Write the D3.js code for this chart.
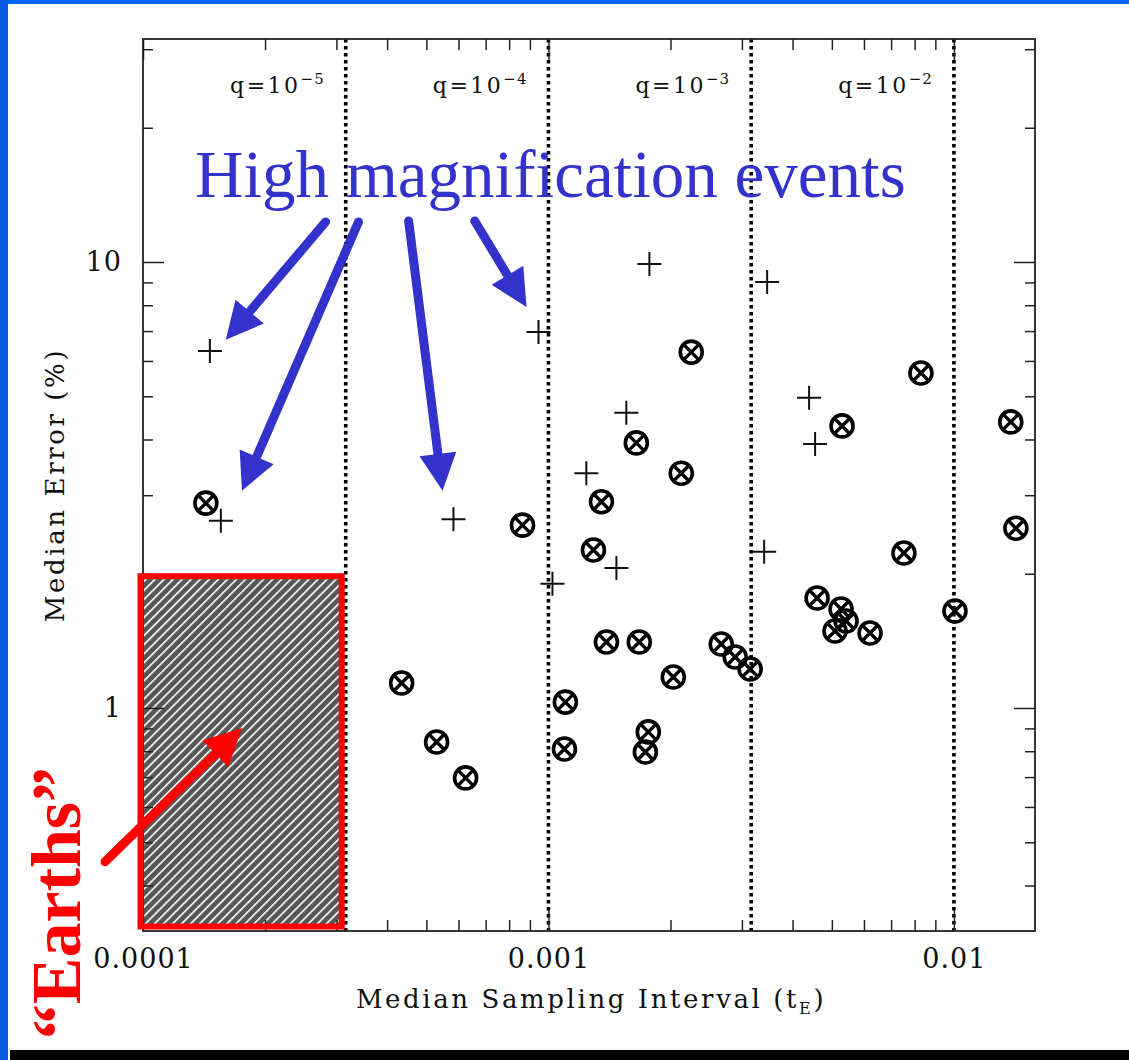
<!DOCTYPE html>
<meta charset="utf-8">
<style>
body { margin: 0; background: #fff; }
svg { display: block; }
</style>
<body>
<script src="https://cdn.jsdelivr.net/npm/d3@7"></script>
<script>
// events: median sampling interval (t_E) vs median error (%)
// "+" events
var plusX = [1.462e-4, 1.556e-4, 5.83e-4, 9.45e-4, 1.023e-3, 1.774e-3, 1.240e-3,
             1.556e-3, 1.471e-3, 3.462e-3, 4.394e-3, 4.546e-3, 3.404e-3];
var plusY = [6.32, 2.63, 2.65, 6.97, 1.90, 9.90, 3.36, 4.59, 2.06, 9.02, 4.96, 3.91, 2.24];

// circled-cross events
var circX = [1.429e-4, 4.344e-4, 5.298e-4, 6.246e-4, 8.630e-4, 1.101e-3, 1.095e-3,
             1.291e-3, 1.351e-3, 1.390e-3, 1.675e-3, 1.647e-3, 1.763e-3, 1.734e-3,
             2.032e-3, 2.126e-3, 2.250e-3, 2.668e-3, 2.888e-3, 3.144e-3, 4.598e-3,
             5.268e-3, 5.420e-3, 5.091e-3, 6.211e-3, 5.298e-3, 7.528e-3, 8.292e-3,
             1.006e-2, 1.381e-2, 1.422e-2];
var circY = [2.88, 1.138, 0.839, 0.697, 2.57, 1.031, 0.809, 2.26, 2.90, 1.406, 1.406,
             3.93, 0.884, 0.797, 1.174, 3.36, 6.28, 1.392, 1.301, 1.223, 1.765, 1.667,
             1.567, 1.488, 1.473, 4.29, 2.226, 5.64, 1.650, 4.38, 2.53];

// mass ratio boundaries and labels
var qBounds = [Math.pow(10, -3.5), 1e-3, Math.pow(10, -2.5), 1e-2];
var qExps = ["\u22125", "\u22124", "\u22123", "\u22122"];

var xTicks = [1e-4, 1e-3, 1e-2];
var xTickLabels = ["0.0001", "0.001", "0.01"];
var yTicks = [1, 10];
var yTickLabels = ["1", "10"];

// "Earths" region
var earthX = [1e-4, Math.pow(10, -3.5)];
var earthY = [Math.pow(10, -0.5), 2];

var W = 1129, H = 1060;
var pL = 143, pR = 1035, pT = 39, pB = 931;

var x = d3.scaleLog().domain([1e-4, Math.pow(10, -1.8)]).range([pL, pR]);
var y = d3.scaleLog().domain([Math.pow(10, -0.5), Math.pow(10, 1.5)]).range([pB, pT]);

var svg = d3.select("body").append("svg").attr("width", W).attr("height", H);

// slide frame
svg.append("rect").attr("width", W).attr("height", H).attr("fill", "#fff");
svg.append("rect").attr("x", 0).attr("y", 0).attr("width", W).attr("height", 4).attr("fill", "#0066ff");
svg.append("rect").attr("x", 0).attr("y", 0).attr("width", 8).attr("height", H).attr("fill", "#0a5ae0");
svg.append("rect").attr("x", 10).attr("y", 1050).attr("width", W - 10).attr("height", 10).attr("fill", "#000");

// hatch pattern
var defs = svg.append("defs");
var pat = defs.append("pattern").attr("id", "hatch")
    .attr("patternUnits", "userSpaceOnUse").attr("width", 6.4).attr("height", 6.4)
    .attr("patternTransform", "rotate(45)");
pat.append("rect").attr("width", 6.4).attr("height", 6.4).attr("fill", "#575757");
pat.append("rect").attr("width", 1.6).attr("height", 6.4).attr("fill", "#fff");

var bx0 = x(earthX[0]), bx1 = x(earthX[1]), by0 = y(earthY[1]), by1 = y(earthY[0]);
svg.append("rect").attr("x", bx0).attr("y", by0 + 2)
    .attr("width", bx1 - bx0 - 6).attr("height", by1 - by0 - 8)
    .attr("fill", "url(#hatch)");

// q boundaries
svg.selectAll(".qline").data(qBounds).enter().append("line")
    .attr("x1", d => x(d)).attr("x2", d => x(d))
    .attr("y1", pT).attr("y2", pB)
    .attr("stroke", "#000").attr("stroke-width", 3.6).attr("stroke-dasharray", "3.6,3.4");

var serif = "'DejaVu Serif', serif";

var qt = svg.selectAll(".qlab").data(qBounds).enter().append("text")
    .attr("x", d => x(d) - 21).attr("y", 93)
    .attr("text-anchor", "end")
    .attr("font-family", serif).attr("font-size", 22).attr("letter-spacing", 2.5)
    .attr("fill", "#111");
qt.append("tspan").text("q=10");
qt.append("tspan").attr("dy", -9).attr("font-size", 15).attr("letter-spacing", 1)
    .text((d, i) => qExps[i]);

// axes
var xMinor = x.ticks().filter(d => xTicks.indexOf(d) < 0);
var yMinor = y.ticks().filter(d => yTicks.indexOf(d) < 0);

function style(g) {
  g.attr("font-family", serif).attr("font-size", 27);
  g.select(".domain").remove();
  g.selectAll("line").attr("stroke", "#222").attr("stroke-width", 1.5);
  g.selectAll("text").attr("fill", "#111").attr("letter-spacing", 1);
}

svg.append("g").attr("transform", "translate(0," + pB + ")")
    .call(d3.axisBottom(x).tickValues(xTicks).tickSize(-21).tickPadding(18)
      .tickFormat((d, i) => xTickLabels[i])).call(style);
svg.append("g").attr("transform", "translate(0," + pB + ")")
    .call(d3.axisBottom(x).tickValues(xMinor).tickSize(-11).tickFormat("")).call(style);
svg.append("g").attr("transform", "translate(0," + pT + ")")
    .call(d3.axisTop(x).tickValues(xTicks).tickSize(-21).tickFormat("")).call(style);
svg.append("g").attr("transform", "translate(0," + pT + ")")
    .call(d3.axisTop(x).tickValues(xMinor).tickSize(-11).tickFormat("")).call(style);

svg.append("g").attr("transform", "translate(" + pL + ",0)")
    .call(d3.axisLeft(y).tickValues(yTicks).tickSize(-21).tickPadding(21)
      .tickFormat((d, i) => yTickLabels[i])).call(style);
svg.append("g").attr("transform", "translate(" + pL + ",0)")
    .call(d3.axisLeft(y).tickValues(yMinor).tickSize(-10).tickFormat("")).call(style);
svg.append("g").attr("transform", "translate(" + pR + ",0)")
    .call(d3.axisRight(y).tickValues(yTicks).tickSize(-21).tickFormat("")).call(style);
svg.append("g").attr("transform", "translate(" + pR + ",0)")
    .call(d3.axisRight(y).tickValues(yMinor).tickSize(-10).tickFormat("")).call(style);

svg.append("rect").attr("x", pL).attr("y", pT)
    .attr("width", pR - pL).attr("height", pB - pT)
    .attr("fill", "none").attr("stroke", "#222").attr("stroke-width", 1.8);

// axis titles
var xt = svg.append("text").attr("x", 591).attr("y", 1008).attr("text-anchor", "middle")
    .attr("font-family", serif).attr("font-size", 26).attr("letter-spacing", 2.6).attr("fill", "#111");
xt.append("tspan").text("Median Sampling Interval (t");
xt.append("tspan").attr("dy", 6).attr("font-size", 16).text("E");
xt.append("tspan").attr("dy", -6).text(")");

svg.append("text").attr("transform", "translate(64,485) rotate(-90)")
    .attr("text-anchor", "middle")
    .attr("font-family", serif).attr("font-size", 26).attr("letter-spacing", 2.6).attr("fill", "#111")
    .text("Median Error (%)");

// points
svg.append("g").selectAll("path").data(plusX).enter().append("path")
    .attr("d", (d, i) => {
      var cx = x(d), cy = y(plusY[i]);
      return "M" + (cx - 12) + "," + cy + "H" + (cx + 12) + "M" + cx + "," + (cy - 12) + "V" + (cy + 12);
    })
    .attr("stroke", "#111").attr("stroke-width", 2).attr("fill", "none");

var cg = svg.append("g").selectAll("g").data(circX).enter().append("g")
    .attr("transform", (d, i) => "translate(" + x(d) + "," + y(circY[i]) + ")");
cg.append("circle").attr("r", 11).attr("fill", "none").attr("stroke", "#000").attr("stroke-width", 3.6);
cg.append("path").attr("d", "M-7.5,-7.5L7.5,7.5M-7.5,7.5L7.5,-7.5")
    .attr("stroke", "#000").attr("stroke-width", 3.4);

// red box
svg.append("rect").attr("x", bx0 - 2.5).attr("y", by0 + 2.5)
    .attr("width", bx1 - bx0 - 1.5).attr("height", by1 - by0 - 7)
    .attr("fill", "none").attr("stroke", "#ff0000").attr("stroke-width", 6);

// annotation arrows
function arrow(x1, y1, x2, y2, color) {
  var dx = x2 - x1, dy = y2 - y1, L = Math.hypot(dx, dy), ux = dx / L, uy = dy / L;
  var hl = 37, hw = 18.5;
  var hx = x2 - ux * hl, hy = y2 - uy * hl;
  svg.append("line").attr("x1", x1).attr("y1", y1).attr("x2", hx + ux * 3).attr("y2", hy + uy * 3)
      .attr("stroke", color).attr("stroke-width", 9).attr("stroke-linecap", "round");
  svg.append("path")
      .attr("d", "M" + x2 + "," + y2 + "L" + (hx - uy * hw) + "," + (hy + ux * hw) +
        "L" + (hx + uy * hw) + "," + (hy - ux * hw) + "Z")
      .attr("fill", color);
}

var blue = "#3333cc";
arrow(x(2.82e-4), y(12.3), x(1.60e-4), y(6.69), blue);
arrow(x(3.40e-4), y(12.3), x(1.754e-4), y(3.07), blue);
arrow(x(4.52e-4), y(12.36), x(5.48e-4), y(3.07), blue);
arrow(x(6.58e-4), y(12.36), x(8.83e-4), y(7.93), blue);

svg.append("text").attr("x", 195).attr("y", 197)
    .attr("font-family", "'Liberation Serif', 'Times New Roman', serif").attr("font-size", 67)
    .attr("fill", blue).text("High magnification events");

arrow(x(8.06e-5), y(0.452), x(1.754e-4), y(0.902), "#ff0000");

svg.append("text").attr("transform", "translate(80,903) rotate(-90)")
    .attr("text-anchor", "middle")
    .attr("font-family", "'Liberation Serif', 'Times New Roman', serif")
    .attr("font-weight", "bold").attr("font-size", 70).attr("fill", "#ff0000")
    .text("\u201CEarths\u201D");
</script>
</body>
